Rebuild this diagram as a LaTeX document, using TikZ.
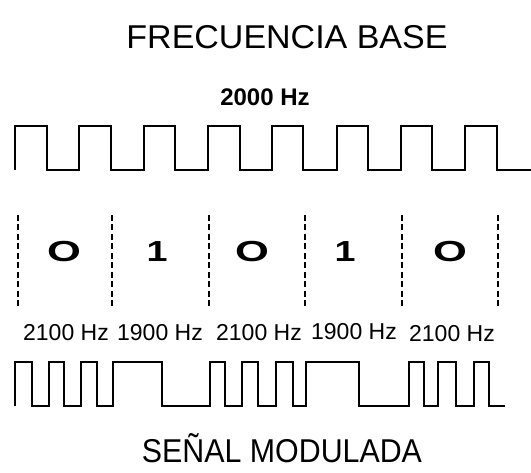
\documentclass[tikz,border=0pt]{standalone}
\usepackage{fontspec}
\setmainfont{Liberation Sans}
\begin{document}
\begin{tikzpicture}[x=1pt,y=-1pt,
  wave/.style={draw=black,line width=1.3pt,line join=miter},
  sep/.style={draw=black,line width=1.4pt,dash pattern=on 6pt off 3.5pt},
  big/.style={font=\fontsize{33}{33}\selectfont,anchor=base,inner sep=0pt},
  freq/.style={font=\fontsize{23}{23}\selectfont,anchor=base,inner sep=0pt},
  bitlbl/.style={font=\fontsize{29}{29}\selectfont\bfseries,anchor=base,inner sep=0pt}]
\fill[white] (0,0) rectangle (531,473);
\useasboundingbox (0,0) rectangle (531,473);
% titles
\node[big] (title) at (287,49) {\scalebox{1.03}[1]{FRECUENCIA BASE}};
\node[font=\fontsize{24}{24}\selectfont\bfseries,anchor=base,inner sep=0pt] (base) at (265,106) {2000 Hz};
% base frequency wave
\draw[wave] (15,170) |- (47,126) |- (79,170) |- (111,126) |- (144,170) |- (175,126) |- (208,170) |- (240,126) |- (272,170) |- (303,126) |- (337,170) |- (368,126) |- (401,170) |- (432,126) |- (465,170) |- (497,126) |- (531,170);
% bit separators
\foreach \x in {18,112,209,305,402,498} \draw[sep] (\x,215) -- (\x,308);
% bits
\node[bitlbl] (b1) at (64,262) {\scalebox{1.5}[1]{O}};
\node[bitlbl] (b2) at (157,262) {\scalebox{1.3}[1]{1}};
\node[bitlbl] (b3) at (252,262) {\scalebox{1.5}[1]{O}};
\node[bitlbl] (b4) at (345,262) {\scalebox{1.3}[1]{1}};
\node[bitlbl] (b5) at (450,262) {\scalebox{1.5}[1]{O}};
% frequencies
\node[freq] (f1) at (66,341) {2100 Hz};
\node[freq] (f2) at (160,341) {1900 Hz};
\node[freq] (f3) at (259,341) {2100 Hz};
\node[freq] (f4) at (354,340) {1900 Hz};
\node[freq] (f5) at (452,342) {2100 Hz};
% modulated wave
\draw[wave] (15,406) |- (32,362) |- (49,406) |- (64,362) |- (81,406) |- (97,362) |- (113,406) |- (162,362) |- (210,406) |- (225,362) |- (242,406) |- (258,362) |- (276,406) |- (293,362) |- (306,406) |- (359,362) |- (409,406) |- (424,362) |- (438,406) |- (456,362) |- (474,406) |- (489,362) |- (505,406);
\node[big] (mod) at (282,463) {\scalebox{0.92}[1]{SEÑAL MODULADA}};
\end{tikzpicture}
\end{document}
